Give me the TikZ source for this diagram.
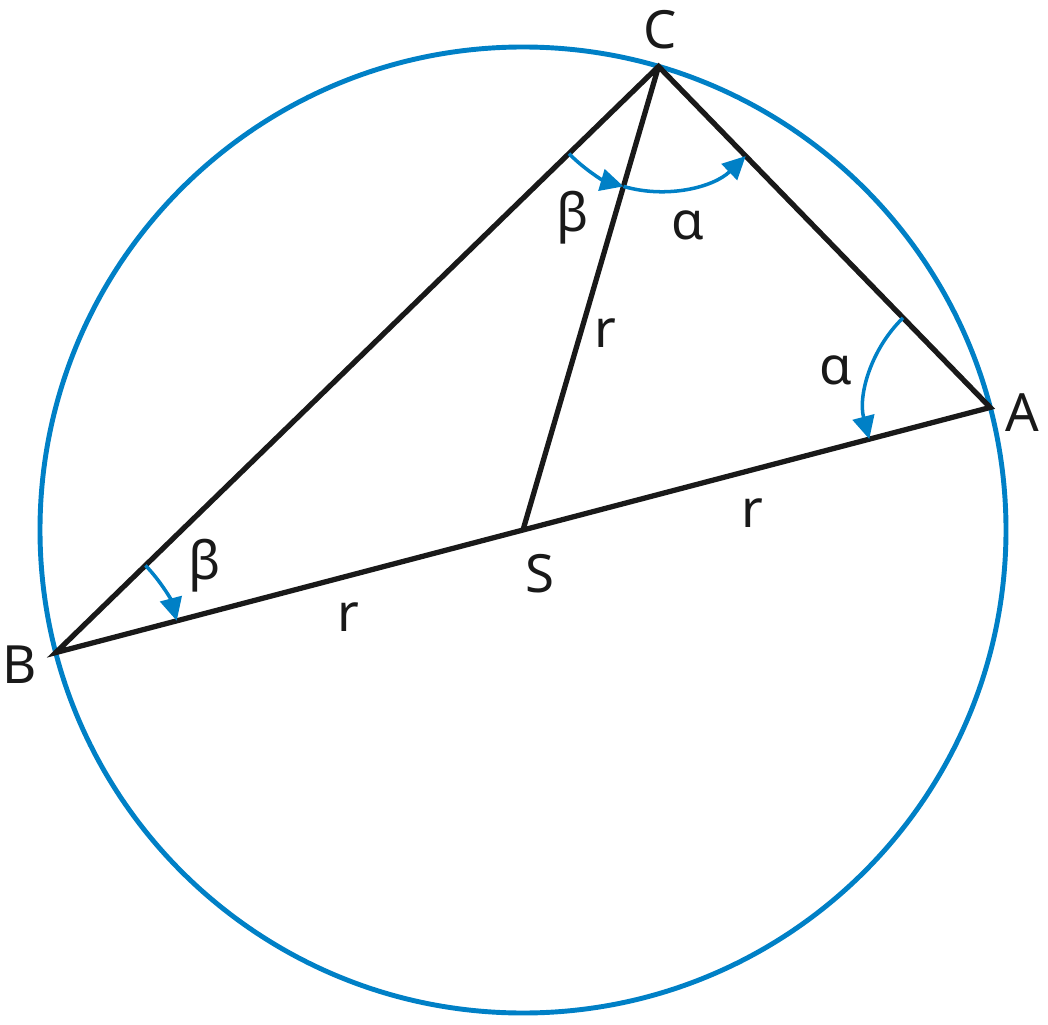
\documentclass[tikz,border=0pt]{standalone}
\usepackage{fontspec}
\setmainfont{Noto Sans}
\usepackage{tikz}
\usetikzlibrary{calc}
\usetikzlibrary{angles}
\usetikzlibrary{arrows.meta}
\definecolor{kreis}{RGB}{0,128,198}
\tikzset{
    seite/.style={line width=1.5pt,black!90,line join=miter},
    winkel/.style={draw,kreis,line width=1.0pt,angle radius=1.25cm},
    lbl/.style={font=\fontsize{15}{17}\selectfont,inner sep=0pt,text=black!90},
    tip/.tip={Triangle[length=2.3mm,width=2.2mm]}
}
\begin{document}
\begin{tikzpicture}
    \newcommand{\R}{4.83}
    \useasboundingbox (0,0) rectangle (10.48,10.24);
    \path (5.23,4.94) coordinate (S);
    \path ($(S)+( 14.7:\R)$) coordinate (A);
    \path ($(S)+(194.7:\R)$) coordinate (B);
    \path ($(S)+( 73.7:\R)$) coordinate (C);
    %\draw[help lines,line width=0.1pt,blue] (0,0) grid (10,10);
	\draw[kreis,line width=1.4pt] (S) circle (\R);
	\draw[seite] (B)--(C)--(A)--cycle;
	\draw[seite] (C)--(S);
	\pic[winkel,-tip] {angle=B--C--S};
	\pic[winkel,-tip] {angle=S--C--A};
	\pic[winkel,-tip] {angle=C--A--B};
	\pic[winkel,tip-] {angle=A--B--C};
	\node[lbl] (lC) at (6.60,9.94) {C};
	\node[lbl] (lA) at (10.22,6.11) {A};
	\node[lbl] (lB) at (0.20,3.59) {B};
	\node[lbl] (lS) at (5.40,4.50) {S};
	\node[lbl] (bC) at (5.73,8.06) {β};
	\node[lbl] (aC) at (6.88,7.99) {α};
	\node[lbl] (rCS) at (6.05,6.91) {r};
	\node[lbl] (aA) at (8.36,6.54) {α};
	\node[lbl] (rSA) at (7.52,5.11) {r};
	\node[lbl] (bB) at (2.05,4.58) {β};
	\node[lbl] (rBS) at (3.48,4.07) {r};
\end{tikzpicture}
\end{document}
